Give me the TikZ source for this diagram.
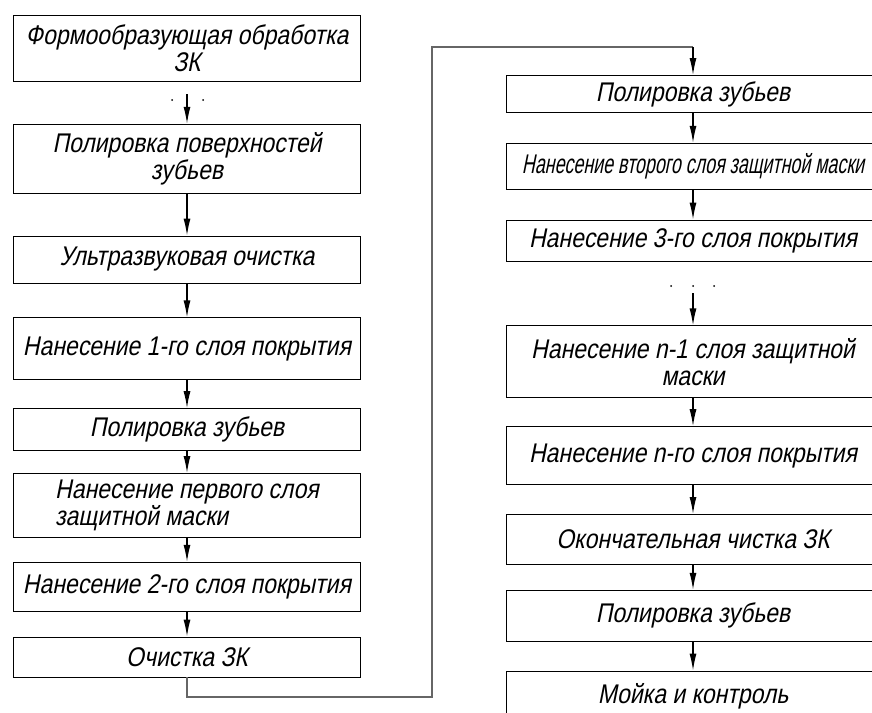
\documentclass[tikz,border=0pt]{standalone}
\usepackage{fontspec}
\newfontfamily\gostfont{Liberation Sans}[FakeStretch=0.85,FakeSlant=0.2]
\newfontfamily\gostnarrow{Liberation Sans}[FakeStretch=0.66,FakeSlant=0.2]
\usetikzlibrary{positioning,arrows.meta}

\begin{document}
\begin{tikzpicture}[
x=1pt, y=-1pt,
block/.style={
	draw, line width=0.8pt, rectangle,
	minimum width=347pt, inner sep=2pt,
	align=center, text=black,
	font=\gostfont\fontsize{27}{27}\selectfont
},
rblock/.style={block, minimum width=374pt},
flow/.style={-{Latex[length=17pt,width=7pt]}, line width=1.3pt},
link/.style={draw=black!60, line width=1.3pt},
dot/.style={circle, fill, inner sep=0pt, minimum size=2pt}
]
\useasboundingbox (0,0) rectangle (872,712);
\clip (0,0) rectangle (872,712);
% left column
\node[block, minimum height=66pt, anchor=north] (b1) at (187,15) {Формообразующая обработка\\ЗК};
\node[block, minimum height=69pt, below=42pt of b1] (b2) {Полировка поверхностей\\зубьев};
\node[block, minimum height=47pt, below=42pt of b2] (b3) {Ультразвуковая очистка};
\node[block, minimum height=62pt, below=34pt of b3] (b4) {Нанесение 1-го слоя покрытия};
\node[block, minimum height=42pt, below=28pt of b4] (b5) {Полировка зубьев};
\node[block, minimum height=64pt, below=22pt of b5, align=left] (b6) {Нанесение первого слоя\\защитной маски};
\node[block, minimum height=49pt, below=24pt of b6] (b7) {Нанесение 2-го слоя покрытия};
\node[block, minimum height=40pt, below=25pt of b7] (b8) {Очистка ЗК};
% right column
\node[rblock, minimum height=37pt, anchor=north] (r1) at (693,75) {Полировка зубьев};
\node[rblock, minimum height=46pt, below=30pt of r1, font=\gostnarrow\fontsize{27}{27}\selectfont] (r2) {Нанесение второго слоя защитной маски};
\node[rblock, minimum height=41pt, below=30pt of r2] (r3) {Нанесение 3-го слоя покрытия};
\node[rblock, minimum height=72pt, below=64pt of r3] (r4) {Нанесение n-1 слоя защитной\\маски};
\node[rblock, minimum height=58pt, below=28pt of r4] (r5) {Нанесение n-го слоя покрытия};
\node[rblock, minimum height=50pt, below=29pt of r5] (r6) {Окончательная чистка ЗК};
\node[rblock, minimum height=51pt, below=25pt of r6] (r7) {Полировка зубьев};
\node[rblock, minimum height=50pt, below=29pt of r7] (r8) {Мойка и контроль};
% breaks in the sequence
\coordinate (g1) at (187,94);
\node[dot] (d1) at (172,100) {};
\node[dot] (d2) at (203,100) {};
\coordinate (g2) at (693,293);
\node[dot] (d3) at (671,286) {};
\node[dot] (d4) at (693,286) {};
\node[dot] (d5) at (714,286) {};
% arrows
\draw[flow] (g1) -- (b2.north);
\foreach \a/\b in {b2/b3,b3/b4,b4/b5,b5/b6,b6/b7,b7/b8,r1/r2,r2/r3,r4/r5,r5/r6,r6/r7,r7/r8}
	\draw[flow] (\a.south) -- (\b.north);
\draw[flow] (g2) -- (r4.north);
% link between columns
\coordinate (c1) at (432,697);
\coordinate (c2) at (432,47);
\coordinate (c3) at (r1.north |- c2);
\draw[link] (b8.south) |- (c1) -- (c2) -- (c3);
\draw[flow] (c3) -- (r1.north);
\end{tikzpicture}
\end{document}
